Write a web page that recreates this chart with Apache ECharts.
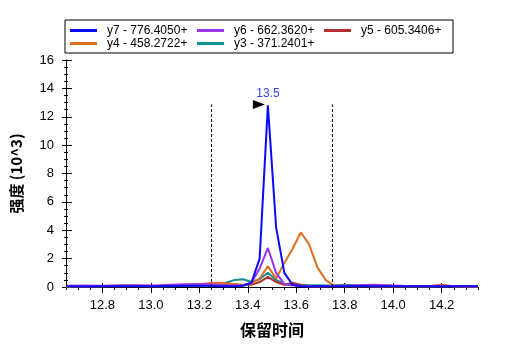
<!DOCTYPE html>
<html>
<head>
<meta charset="utf-8">
<script src="https://cdn.jsdelivr.net/npm/echarts@6/dist/echarts.min.js"></script>
<style>
html,body{margin:0;padding:0;background:#fff;}
#main{width:507px;height:351px;}
</style>
</head>
<body>
<div id="main"></div>
<script>
// retention time (min)
var times = [12.65, 12.72, 12.80, 12.88, 12.95, 13.02, 13.08, 13.14, 13.20, 13.245, 13.279, 13.313, 13.347, 13.381, 13.415, 13.449, 13.483, 13.517, 13.551, 13.585, 13.619, 13.653, 13.687, 13.721, 13.755, 13.80, 13.86, 13.92, 13.98, 14.04, 14.10, 14.16, 14.20, 14.26, 14.35];

// intensity (10^3)
var y7 = [0.05, 0.04, 0.05, 0.06, 0.05, 0.06, 0.07, 0.08, 0.08, 0.07, 0.06, 0.05, 0.06, 0.08, 0.3, 2.0, 12.8, 4.2, 1.0, 0.15, 0.05, 0.04, 0.05, 0.05, 0.06, 0.05, 0.07, 0.06, 0.05, 0.06, 0.05, 0.05, 0.06, 0.05, 0.05];
var y6 = [0.08, 0.1, 0.08, 0.1, 0.12, 0.1, 0.15, 0.2, 0.22, 0.2, 0.15, 0.12, 0.1, 0.12, 0.3, 1.3, 2.75, 1.0, 0.2, 0.1, 0.08, 0.06, 0.05, 0.06, 0.08, 0.1, 0.12, 0.15, 0.12, 0.08, 0.06, 0.05, 0.05, 0.06, 0.05];
var y5 = [0.03, 0.04, 0.05, 0.06, 0.05, 0.06, 0.07, 0.08, 0.1, 0.15, 0.2, 0.25, 0.2, 0.15, 0.15, 0.35, 0.72, 0.35, 0.15, 0.3, 0.15, 0.05, 0.04, 0.05, 0.05, 0.06, 0.1, 0.06, 0.05, 0.05, 0.06, 0.08, 0.15, 0.04, 0.04];
var y4 = [0.05, 0.06, 0.07, 0.1, 0.08, 0.07, 0.1, 0.15, 0.2, 0.28, 0.3, 0.25, 0.2, 0.15, 0.25, 0.6, 1.45, 0.6, 1.7, 2.7, 3.85, 3.0, 1.4, 0.5, 0.1, 0.05, 0.06, 0.05, 0.05, 0.06, 0.05, 0.06, 0.1, 0.05, 0.05];
var y3 = [0.05, 0.05, 0.06, 0.1, 0.07, 0.05, 0.06, 0.08, 0.1, 0.15, 0.2, 0.32, 0.5, 0.55, 0.35, 0.55, 1.0, 0.5, 0.2, 0.15, 0.15, 0.12, 0.12, 0.1, 0.1, 0.15, 0.08, 0.06, 0.05, 0.05, 0.06, 0.05, 0.05, 0.05, 0.04];

var legendNames = ['y7 - 776.4050+', 'y6 - 662.3620+', 'y5 - 605.3406+', 'y4 - 458.2722+', 'y3 - 371.2401+'];
var xTicks = [12.8, 13.0, 13.2, 13.4, 13.6, 13.8, 14.0, 14.2];
var boundaryTimes = [13.25, 13.75];
var boundaryTop = 12.86;
var peakTime = 13.483;
var peakValue = 12.8;
var peakLabel = '13.5';

function pairs(vals) {
    return times.map(function (t, i) { return [t, vals[i]]; });
}

var chart = echarts.init(document.getElementById('main'));
var axisFont = 'Liberation Sans, Arial, sans-serif';
var cjkFont = 'Noto Sans CJK SC, sans-serif';

function lineSeries(name, vals, color) {
    return {
        name: name,
        type: 'line',
        data: pairs(vals),
        showSymbol: false,
        symbol: 'none',
        lineStyle: {color: color, width: 2},
        itemStyle: {color: color},
        animation: false
    };
}

var blue = lineSeries(legendNames[0], y7, '#0a0aff');
blue.markLine = {
    silent: true,
    symbol: ['none', 'none'],
    label: {show: false},
    lineStyle: {type: [3, 2], color: '#000', width: 1},
    data: boundaryTimes.map(function (t) {
        return [{coord: [t, 0]}, {coord: [t, boundaryTop]}];
    })
};
blue.markPoint = {
    silent: true,
    data: [
        {coord: [peakTime, peakValue], symbol: 'triangle', symbolRotate: -90, symbolSize: [9, 12],
         symbolOffset: [-9, -1], itemStyle: {color: '#000'}, label: {show: false}},
        {coord: [peakTime, peakValue], symbol: 'circle', symbolSize: 0,
         label: {show: true, position: 'top', distance: 6, formatter: peakLabel,
                 color: '#3344ee', fontSize: 12, fontFamily: axisFont}}
    ]
};

var option = {
    backgroundColor: '#fff',
    animation: false,
    grid: {left: 66, right: 29, top: 60, bottom: 64},
    legend: {
        data: legendNames,
        left: 65,
        top: 20,
        width: 383,
        icon: 'rect',
        itemWidth: 27,
        itemHeight: 3,
        itemGap: 0,
        padding: [4, 2, 3, 5],
        borderColor: '#000',
        borderWidth: 1,
        backgroundColor: '#fff',
        selectedMode: false,
        textStyle: {fontSize: 12, color: '#000', fontFamily: axisFont, width: 90, lineHeight: 13, padding: [0, 0, 0, 5]}
    },
    xAxis: [
        {
            type: 'value', min: 12.65, max: 14.35, position: 'bottom',
            axisLine: {show: true, lineStyle: {color: '#000', width: 1}},
            axisTick: {show: true, customValues: xTicks, length: 6, lineStyle: {color: '#000'}},
            axisLabel: {customValues: xTicks, margin: 12, fontSize: 13, color: '#000', fontFamily: axisFont,
                        formatter: function (v) { return v.toFixed(1); }},
            splitLine: {show: false},
            name: '保留时间', nameLocation: 'middle', nameGap: 35,
            nameTextStyle: {fontFamily: cjkFont, fontWeight: 'bold', fontSize: 16, color: '#000'}
        },
        {
            type: 'value', min: 12.65, max: 14.35, position: 'bottom',
            axisLine: {show: false},
            axisTick: {show: true, customValues: xTicks, inside: true, length: 4, lineStyle: {color: '#000'}},
            axisLabel: {show: false},
            splitLine: {show: false}
        },
        {
            type: 'value', min: 12.65, max: 14.35, interval: 0.05, position: 'bottom',
            axisLine: {show: false},
            axisTick: {show: true, length: 3, lineStyle: {color: '#000'}},
            axisLabel: {show: false},
            splitLine: {show: false}
        }
    ],
    yAxis: [
        {
            type: 'value', min: 0, max: 16, interval: 2, position: 'left',
            axisLine: {show: true, lineStyle: {color: '#000', width: 1}},
            axisTick: {show: true, length: 4, lineStyle: {color: '#000'}},
            minorTick: {show: true, splitNumber: 4, length: 2, lineStyle: {color: '#000'}},
            axisLabel: {margin: 12, fontSize: 13, color: '#000', fontFamily: axisFont},
            splitLine: {show: false},
            name: '强度 (10^3)', nameLocation: 'middle', nameGap: 42,
            nameTextStyle: {fontFamily: cjkFont, fontWeight: 'bold', fontSize: 15, color: '#000'}
        },
        {
            type: 'value', min: 0, max: 16, interval: 2, position: 'left',
            axisLine: {show: false},
            axisTick: {show: true, inside: true, length: 6, lineStyle: {color: '#000'}},
            minorTick: {show: true, splitNumber: 4, length: 2, lineStyle: {color: '#000'}},
            axisLabel: {show: false},
            splitLine: {show: false}
        }
    ],
    series: [
        lineSeries(legendNames[4], y3, '#109090'),
        lineSeries(legendNames[2], y5, '#b03030'),
        lineSeries(legendNames[3], y4, '#dd7020'),
        lineSeries(legendNames[1], y6, '#9a35e8'),
        blue
    ]
};
chart.setOption(option);
</script>
</body>
</html>
